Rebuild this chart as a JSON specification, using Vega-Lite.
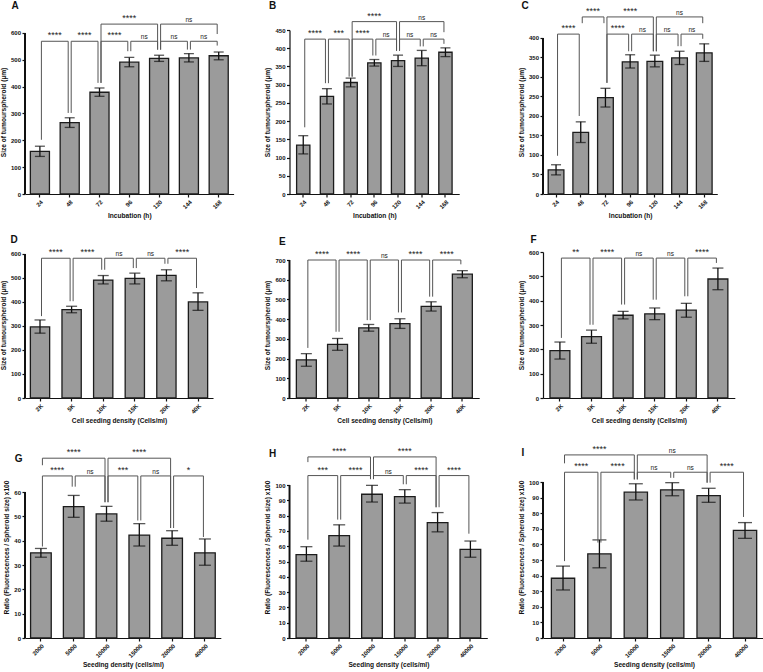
{
"$schema": "https://vega.github.io/schema/vega-lite/v6.json",
"padding": {"left": 0, "top": 0, "right": 0, "bottom": 0},
"config": {
 "view": {"stroke": null},
 "font": "Liberation Sans",
 "axis": {"grid": false, "labelFont": "Liberation Sans", "titleFont": "Liberation Sans", "labelFontWeight": "bold", "titleFontWeight": "bold", "labelFontSize": 6, "titleFontSize": 6.6, "labelColor": "#111", "titleColor": "#111", "domainColor": "#111", "tickColor": "#111", "domainWidth": 1.2, "tickWidth": 1.2, "tickSize": 3, "labelPadding": 1.5, "titlePadding": 4, "labelOverlap": false, "labelFlush": false},
 "axisX": {"labelAngle": -45, "titlePadding": 3},
 "title": {"font": "Liberation Sans", "fontSize": 10, "fontWeight": "bold", "anchor": "start", "frame": "bounds", "color": "#111"}
},
"datasets": {
 "A": [{"cat":"24","mean":159,"lo":140,"hi":178},{"cat":"48","mean":266,"lo":248,"hi":284},{"cat":"72","mean":379,"lo":364,"hi":395},{"cat":"96","mean":491,"lo":474,"hi":509},{"cat":"120","mean":505,"lo":494,"hi":517},{"cat":"144","mean":507,"lo":492,"hi":523},{"cat":"168","mean":515,"lo":500,"hi":529}],
 "B": [{"cat":"24","mean":134,"lo":110,"hi":160},{"cat":"48","mean":268,"lo":247,"hi":289},{"cat":"72","mean":306,"lo":294,"hi":318},{"cat":"96","mean":360,"lo":351,"hi":369},{"cat":"120","mean":366,"lo":350,"hi":381},{"cat":"144","mean":373,"lo":352,"hi":394},{"cat":"168","mean":389,"lo":377,"hi":401}],
 "C": [{"cat":"24","mean":62,"lo":49,"hi":75},{"cat":"48","mean":158,"lo":132,"hi":185},{"cat":"72","mean":247,"lo":223,"hi":271},{"cat":"96","mean":339,"lo":323,"hi":357},{"cat":"120","mean":340,"lo":326,"hi":356},{"cat":"144","mean":349,"lo":332,"hi":366},{"cat":"168","mean":362,"lo":340,"hi":385}],
 "D": [{"cat":"2K","mean":296,"lo":270,"hi":325},{"cat":"5K","mean":368,"lo":355,"hi":382},{"cat":"10K","mean":491,"lo":475,"hi":510},{"cat":"15K","mean":498,"lo":475,"hi":520},{"cat":"20K","mean":511,"lo":488,"hi":534},{"cat":"40K","mean":400,"lo":365,"hi":438}],
 "E": [{"cat":"2K","mean":193,"lo":161,"hi":225},{"cat":"5K","mean":272,"lo":242,"hi":302},{"cat":"10K","mean":356,"lo":339,"hi":373},{"cat":"15K","mean":377,"lo":353,"hi":402},{"cat":"20K","mean":465,"lo":441,"hi":488},{"cat":"40K","mean":628,"lo":610,"hi":646}],
 "F": [{"cat":"2K","mean":195,"lo":160,"hi":230},{"cat":"5K","mean":252,"lo":225,"hi":279},{"cat":"10K","mean":340,"lo":325,"hi":356},{"cat":"15K","mean":346,"lo":322,"hi":370},{"cat":"20K","mean":361,"lo":332,"hi":389},{"cat":"40K","mean":489,"lo":445,"hi":534}],
 "G": [{"cat":"2000","mean":35,"lo":33.2,"hi":36.8},{"cat":"5000","mean":54,"lo":49.6,"hi":58.6},{"cat":"10000","mean":51,"lo":48,"hi":54.1},{"cat":"15000","mean":42.3,"lo":37.8,"hi":47},{"cat":"20000","mean":41,"lo":38.1,"hi":44.1},{"cat":"40000","mean":35,"lo":29.9,"hi":40.7}],
 "H": [{"cat":"2000","mean":54.5,"lo":50.2,"hi":59.7},{"cat":"5000","mean":67,"lo":60.1,"hi":74},{"cat":"10000","mean":94,"lo":88.9,"hi":99.8},{"cat":"15000","mean":92.4,"lo":88.2,"hi":97},{"cat":"20000","mean":75.5,"lo":69.4,"hi":82},{"cat":"40000","mean":58,"lo":52.8,"hi":63.4}],
 "I": [{"cat":"2000","mean":38.3,"lo":30.8,"hi":46.1},{"cat":"5000","mean":54,"lo":45,"hi":62.9},{"cat":"10000","mean":93.5,"lo":88.5,"hi":98.9},{"cat":"15000","mean":95,"lo":91.2,"hi":99.6},{"cat":"20000","mean":91.3,"lo":87,"hi":96},{"cat":"40000","mean":69,"lo":63.9,"hi":74}],
 "bA": [{"a":"24","b":"48","m":"","lev":569,"ya":202,"yb":302,"lab":"****","adj":true},{"a":"48","b":"72","m":"","lev":569,"ya":302,"yb":414,"lab":"****","adj":true},{"a":"72","b":"96","m":"","lev":569,"ya":414,"yb":532,"lab":"****","adj":true},{"a":"96","b":"120","m":"","lev":569,"ya":532,"yb":538,"lab":"ns","adj":true},{"a":"120","b":"144","m":"","lev":569,"ya":538,"yb":538,"lab":"ns","adj":true},{"a":"144","b":"168","m":"","lev":569,"ya":538,"yb":553,"lab":"ns","adj":true},{"a":"72","b":"120","m":"96","lev":633,"ya":414,"yb":538,"lab":"****","adj":false},{"a":"120","b":"168","m":"144","lev":633,"ya":538,"yb":596,"lab":"ns","adj":false}],
 "bB": [{"a":"24","b":"48","m":"","lev":425,"ya":183,"yb":304,"lab":"****","adj":true},{"a":"48","b":"72","m":"","lev":425,"ya":304,"yb":322,"lab":"***","adj":true},{"a":"72","b":"96","m":"","lev":425,"ya":322,"yb":380,"lab":"****","adj":true},{"a":"96","b":"120","m":"","lev":425,"ya":380,"yb":393,"lab":"ns","adj":true},{"a":"120","b":"144","m":"","lev":425,"ya":393,"yb":405,"lab":"ns","adj":true},{"a":"144","b":"168","m":"","lev":425,"ya":405,"yb":412,"lab":"ns","adj":true},{"a":"72","b":"120","m":"96","lev":473,"ya":322,"yb":393,"lab":"****","adj":false},{"a":"120","b":"168","m":"144","lev":473,"ya":393,"yb":444,"lab":"ns","adj":false}],
 "bC": [{"a":"24","b":"48","m":"","lev":410,"ya":98,"yb":200,"lab":"****","adj":true},{"a":"72","b":"96","m":"","lev":410,"ya":285,"yb":366,"lab":"****","adj":true},{"a":"96","b":"120","m":"","lev":410,"ya":366,"yb":366,"lab":"ns","adj":true},{"a":"120","b":"144","m":"","lev":410,"ya":366,"yb":379,"lab":"ns","adj":true},{"a":"144","b":"168","m":"","lev":410,"ya":379,"yb":398,"lab":"ns","adj":true},{"a":"48","b":"72","m":"","lev":454,"ya":438,"yb":438,"lab":"****","adj":true},{"a":"72","b":"120","m":"96","lev":454,"ya":285,"yb":366,"lab":"****","adj":false},{"a":"120","b":"168","m":"144","lev":454,"ya":366,"yb":438,"lab":"ns","adj":false}],
 "bD": [{"a":"2K","b":"5K","m":"","lev":582,"ya":341,"yb":403,"lab":"****","adj":true},{"a":"5K","b":"10K","m":"","lev":582,"ya":403,"yb":534,"lab":"****","adj":true},{"a":"10K","b":"15K","m":"","lev":582,"ya":534,"yb":541,"lab":"ns","adj":true},{"a":"15K","b":"20K","m":"","lev":582,"ya":541,"yb":559,"lab":"ns","adj":true},{"a":"20K","b":"40K","m":"","lev":582,"ya":559,"yb":458,"lab":"****","adj":true}],
 "bE": [{"a":"2K","b":"5K","m":"","lev":700,"ya":254,"yb":336,"lab":"****","adj":true},{"a":"5K","b":"10K","m":"","lev":700,"ya":336,"yb":395,"lab":"****","adj":true},{"a":"10K","b":"15K","m":"","lev":700,"ya":395,"yb":434,"lab":"ns","adj":true},{"a":"15K","b":"20K","m":"","lev":700,"ya":434,"yb":514,"lab":"****","adj":true},{"a":"20K","b":"40K","m":"","lev":700,"ya":514,"yb":678,"lab":"****","adj":true}],
 "bF": [{"a":"2K","b":"5K","m":"","lev":575,"ya":247,"yb":301,"lab":"**","adj":true},{"a":"5K","b":"10K","m":"","lev":575,"ya":301,"yb":384,"lab":"****","adj":true},{"a":"10K","b":"15K","m":"","lev":575,"ya":384,"yb":404,"lab":"ns","adj":true},{"a":"15K","b":"20K","m":"","lev":575,"ya":404,"yb":418,"lab":"ns","adj":true},{"a":"20K","b":"40K","m":"","lev":575,"ya":418,"yb":555,"lab":"****","adj":true}],
 "bG": [{"a":"2000","b":"5000","m":"","lev":66.6,"ya":37.6,"yb":62.2,"lab":"****","adj":true},{"a":"5000","b":"10000","m":"","lev":66.6,"ya":62.2,"yb":55.8,"lab":"ns","adj":true},{"a":"10000","b":"15000","m":"","lev":66.6,"ya":55.8,"yb":48.3,"lab":"***","adj":true},{"a":"15000","b":"20000","m":"","lev":66.6,"ya":48.3,"yb":45.2,"lab":"ns","adj":true},{"a":"20000","b":"40000","m":"","lev":66.6,"ya":45.2,"yb":41.5,"lab":"*","adj":true},{"a":"2000","b":"10000","m":"5000","lev":73.9,"ya":71,"yb":55.8,"lab":"****","adj":false},{"a":"10000","b":"20000","m":"15000","lev":73.9,"ya":55.8,"yb":45.2,"lab":"****","adj":false}],
 "bH": [{"a":"2000","b":"5000","m":"","lev":106.2,"ya":64.3,"yb":77.4,"lab":"***","adj":true},{"a":"5000","b":"10000","m":"","lev":106.2,"ya":77.4,"yb":103.9,"lab":"****","adj":true},{"a":"10000","b":"15000","m":"","lev":106.2,"ya":103.9,"yb":100.5,"lab":"ns","adj":true},{"a":"15000","b":"20000","m":"","lev":106.2,"ya":100.5,"yb":85.5,"lab":"****","adj":true},{"a":"20000","b":"40000","m":"","lev":106.2,"ya":85.5,"yb":68.2,"lab":"****","adj":true},{"a":"2000","b":"10000","m":"5000","lev":118.4,"ya":115,"yb":103.9,"lab":"****","adj":false},{"a":"10000","b":"20000","m":"15000","lev":118.4,"ya":103.9,"yb":85.5,"lab":"****","adj":false}],
 "bI": [{"a":"2000","b":"5000","m":"","lev":106.3,"ya":49.3,"yb":61.2,"lab":"****","adj":true},{"a":"5000","b":"10000","m":"","lev":106.3,"ya":61.2,"yb":101.7,"lab":"****","adj":true},{"a":"10000","b":"15000","m":"","lev":106.3,"ya":101.7,"yb":102.7,"lab":"ns","adj":true},{"a":"15000","b":"20000","m":"","lev":106.3,"ya":102.7,"yb":99.6,"lab":"ns","adj":true},{"a":"20000","b":"40000","m":"","lev":106.3,"ya":99.6,"yb":77.6,"lab":"****","adj":true},{"a":"2000","b":"10000","m":"5000","lev":117.4,"ya":112,"yb":101.7,"lab":"****","adj":false},{"a":"10000","b":"20000","m":"15000","lev":117.4,"ya":101.7,"yb":99.6,"lab":"ns","adj":false}]
},
"columns": 3,
"spacing": {"row": 58, "column": 55.5},
"bounds": "flush",
"align": "each",
"concat": [
{"width":{"step":29.8},"height":164,"title":{"text":"A","dx":11,"offset":3},
"layer":[
{"data":{"name":"A"},"mark":{"type":"bar","fill":"#9b9b9b","stroke":"#1c1c1c","strokeWidth":1.3},"encoding":{"x":{"field":"cat","type":"nominal","scale":{"domain":["24","48","72","96","120","144","168"],"paddingInner":0.36,"paddingOuter":0.18},"axis":{"title":"Incubation (h)"}},"y":{"field":"mean","type":"quantitative","scale":{"domain":[0,611],"nice":false},"axis":{"title":"Size of tumourspheroid  (µm)","values":[0,100,200,300,400,500,600],"labelOverlap":false,"tickCount":7,"domain":false}}}},
{"data":{"name":"A"},"mark":{"type":"rule","color":"#111","strokeWidth":1.2},"encoding":{"x":{"datum":"24","type":"nominal","bandPosition":-0.281},"y":{"datum":0,"type":"quantitative","scale":{"domain":[0,611],"nice":false}},"y2":{"datum":600}}},
{"data":{"name":"A"},"mark":{"type":"rule","color":"#111","strokeWidth":1.3},"encoding":{"x":{"field":"cat","type":"nominal"},"y":{"field":"lo","type":"quantitative","scale":{"domain":[0,611],"nice":false}},"y2":{"field":"hi"}}},
{"data":{"name":"A"},"mark":{"type":"tick","color":"#111","thickness":1.3,"size":10},"encoding":{"x":{"field":"cat","type":"nominal"},"y":{"field":"hi","type":"quantitative","scale":{"domain":[0,611],"nice":false}}}},
{"data":{"name":"A"},"mark":{"type":"tick","color":"#111","thickness":1.3,"size":10},"encoding":{"x":{"field":"cat","type":"nominal"},"y":{"field":"lo","type":"quantitative","scale":{"domain":[0,611],"nice":false}}}},
{"data":{"name":"bA"},"mark":{"type":"rule","color":"#555","strokeWidth":1,"xOffset":1.5,"x2Offset":-1.5},"encoding":{"x":{"field":"a","type":"nominal"},"x2":{"field":"b"},"y":{"field":"lev","type":"quantitative","scale":{"domain":[0,611],"nice":false}}}},
{"data":{"name":"bA"},"mark":{"type":"rule","color":"#555","strokeWidth":1,"xOffset":1.5},"encoding":{"x":{"field":"a","type":"nominal"},"y":{"field":"ya","type":"quantitative","scale":{"domain":[0,611],"nice":false}},"y2":{"field":"lev"}}},
{"data":{"name":"bA"},"mark":{"type":"rule","color":"#555","strokeWidth":1,"xOffset":-1.5},"encoding":{"x":{"field":"b","type":"nominal"},"y":{"field":"yb","type":"quantitative","scale":{"domain":[0,611],"nice":false}},"y2":{"field":"lev"}}},
{"data":{"name":"bA"},"transform":[{"filter":"datum.adj"}],"mark":{"type":"text","baseline":"bottom","dy":-1,"xOffset":14.9,"color":"#222","fontSize":{"expr":"datum.lab == 'ns' ? 6.5 : 9"}},"encoding":{"x":{"field":"a","type":"nominal"},"y":{"field":"lev","type":"quantitative","scale":{"domain":[0,611],"nice":false}},"text":{"field":"lab"}}},
{"data":{"name":"bA"},"transform":[{"filter":"!datum.adj"}],"mark":{"type":"text","baseline":"bottom","dy":-1,"color":"#222","fontSize":{"expr":"datum.lab == 'ns' ? 6.5 : 9"}},"encoding":{"x":{"field":"m","type":"nominal"},"y":{"field":"lev","type":"quantitative","scale":{"domain":[0,611],"nice":false}},"text":{"field":"lab"}}}
]},
{"width":{"step":23.7},"height":164,"title":{"text":"B","dx":4,"offset":1},
"layer":[
{"data":{"name":"B"},"mark":{"type":"bar","fill":"#9b9b9b","stroke":"#1c1c1c","strokeWidth":1.3},"encoding":{"x":{"field":"cat","type":"nominal","scale":{"domain":["24","48","72","96","120","144","168"],"paddingInner":0.44,"paddingOuter":0.3},"axis":{"title":"Incubation (h)"}},"y":{"field":"mean","type":"quantitative","scale":{"domain":[0,450],"nice":false},"axis":{"title":"Size of tumourspheroid  (µm)","values":[0,50,100,150,200,250,300,350,400,450],"labelOverlap":false,"tickCount":10}}}},
{"data":{"name":"B"},"mark":{"type":"rule","color":"#111","strokeWidth":1.3},"encoding":{"x":{"field":"cat","type":"nominal"},"y":{"field":"lo","type":"quantitative","scale":{"domain":[0,450],"nice":false}},"y2":{"field":"hi"}}},
{"data":{"name":"B"},"mark":{"type":"tick","color":"#111","thickness":1.3,"size":10},"encoding":{"x":{"field":"cat","type":"nominal"},"y":{"field":"hi","type":"quantitative","scale":{"domain":[0,450],"nice":false}}}},
{"data":{"name":"B"},"mark":{"type":"tick","color":"#111","thickness":1.3,"size":10},"encoding":{"x":{"field":"cat","type":"nominal"},"y":{"field":"lo","type":"quantitative","scale":{"domain":[0,450],"nice":false}}}},
{"data":{"name":"bB"},"mark":{"type":"rule","color":"#555","strokeWidth":1,"xOffset":1.5,"x2Offset":-1.5},"encoding":{"x":{"field":"a","type":"nominal"},"x2":{"field":"b"},"y":{"field":"lev","type":"quantitative","scale":{"domain":[0,450],"nice":false}}}},
{"data":{"name":"bB"},"mark":{"type":"rule","color":"#555","strokeWidth":1,"xOffset":1.5},"encoding":{"x":{"field":"a","type":"nominal"},"y":{"field":"ya","type":"quantitative","scale":{"domain":[0,450],"nice":false}},"y2":{"field":"lev"}}},
{"data":{"name":"bB"},"mark":{"type":"rule","color":"#555","strokeWidth":1,"xOffset":-1.5},"encoding":{"x":{"field":"b","type":"nominal"},"y":{"field":"yb","type":"quantitative","scale":{"domain":[0,450],"nice":false}},"y2":{"field":"lev"}}},
{"data":{"name":"bB"},"transform":[{"filter":"datum.adj"}],"mark":{"type":"text","baseline":"bottom","dy":-1,"xOffset":11.85,"color":"#222","fontSize":{"expr":"datum.lab == 'ns' ? 6.5 : 9"}},"encoding":{"x":{"field":"a","type":"nominal"},"y":{"field":"lev","type":"quantitative","scale":{"domain":[0,450],"nice":false}},"text":{"field":"lab"}}},
{"data":{"name":"bB"},"transform":[{"filter":"!datum.adj"}],"mark":{"type":"text","baseline":"bottom","dy":-1,"color":"#222","fontSize":{"expr":"datum.lab == 'ns' ? 6.5 : 9"}},"encoding":{"x":{"field":"m","type":"nominal"},"y":{"field":"lev","type":"quantitative","scale":{"domain":[0,450],"nice":false}},"text":{"field":"lab"}}}
]},
{"width":{"step":24.7},"height":164,"title":{"text":"C","dx":3,"offset":-4},
"layer":[
{"data":{"name":"C"},"mark":{"type":"bar","fill":"#9b9b9b","stroke":"#1c1c1c","strokeWidth":1.3},"encoding":{"x":{"field":"cat","type":"nominal","scale":{"domain":["24","48","72","96","120","144","168"],"paddingInner":0.364,"paddingOuter":0.21},"axis":{"title":"Incubation (h)"}},"y":{"field":"mean","type":"quantitative","scale":{"domain":[0,420.5],"nice":false},"axis":{"title":"Size of tumourspheroid  (µm)","values":[0,50,100,150,200,250,300,350,400],"labelOverlap":false,"tickCount":9,"domain":false}}}},
{"data":{"name":"C"},"mark":{"type":"rule","color":"#111","strokeWidth":1.2},"encoding":{"x":{"datum":"24","type":"nominal","bandPosition":-0.33},"y":{"datum":0,"type":"quantitative","scale":{"domain":[0,420.5],"nice":false}},"y2":{"datum":400}}},
{"data":{"name":"C"},"mark":{"type":"rule","color":"#111","strokeWidth":1.3},"encoding":{"x":{"field":"cat","type":"nominal"},"y":{"field":"lo","type":"quantitative","scale":{"domain":[0,420.5],"nice":false}},"y2":{"field":"hi"}}},
{"data":{"name":"C"},"mark":{"type":"tick","color":"#111","thickness":1.3,"size":10},"encoding":{"x":{"field":"cat","type":"nominal"},"y":{"field":"hi","type":"quantitative","scale":{"domain":[0,420.5],"nice":false}}}},
{"data":{"name":"C"},"mark":{"type":"tick","color":"#111","thickness":1.3,"size":10},"encoding":{"x":{"field":"cat","type":"nominal"},"y":{"field":"lo","type":"quantitative","scale":{"domain":[0,420.5],"nice":false}}}},
{"data":{"name":"bC"},"mark":{"type":"rule","color":"#555","strokeWidth":1,"xOffset":1.5,"x2Offset":-1.5},"encoding":{"x":{"field":"a","type":"nominal"},"x2":{"field":"b"},"y":{"field":"lev","type":"quantitative","scale":{"domain":[0,420.5],"nice":false}}}},
{"data":{"name":"bC"},"mark":{"type":"rule","color":"#555","strokeWidth":1,"xOffset":1.5},"encoding":{"x":{"field":"a","type":"nominal"},"y":{"field":"ya","type":"quantitative","scale":{"domain":[0,420.5],"nice":false}},"y2":{"field":"lev"}}},
{"data":{"name":"bC"},"mark":{"type":"rule","color":"#555","strokeWidth":1,"xOffset":-1.5},"encoding":{"x":{"field":"b","type":"nominal"},"y":{"field":"yb","type":"quantitative","scale":{"domain":[0,420.5],"nice":false}},"y2":{"field":"lev"}}},
{"data":{"name":"bC"},"transform":[{"filter":"datum.adj"}],"mark":{"type":"text","baseline":"bottom","dy":-1,"xOffset":12.35,"color":"#222","fontSize":{"expr":"datum.lab == 'ns' ? 6.5 : 9"}},"encoding":{"x":{"field":"a","type":"nominal"},"y":{"field":"lev","type":"quantitative","scale":{"domain":[0,420.5],"nice":false}},"text":{"field":"lab"}}},
{"data":{"name":"bC"},"transform":[{"filter":"!datum.adj"}],"mark":{"type":"text","baseline":"bottom","dy":-1,"color":"#222","fontSize":{"expr":"datum.lab == 'ns' ? 6.5 : 9"}},"encoding":{"x":{"field":"m","type":"nominal"},"y":{"field":"lev","type":"quantitative","scale":{"domain":[0,420.5],"nice":false}},"text":{"field":"lab"}}}
]},
{"width":{"step":31.6},"height":146,"title":{"text":"D","dx":10,"offset":3},
"layer":[
{"data":{"name":"D"},"mark":{"type":"bar","fill":"#9b9b9b","stroke":"#1c1c1c","strokeWidth":1.3},"encoding":{"x":{"field":"cat","type":"nominal","scale":{"domain":["2K","5K","10K","15K","20K","40K"],"paddingInner":0.39,"paddingOuter":0.17},"axis":{"title":"Cell seeding density (Cells/ml)"}},"y":{"field":"mean","type":"quantitative","scale":{"domain":[0,608],"nice":false},"axis":{"title":"Size of tumourspheroid  (µm)","values":[0,100,200,300,400,500,600],"labelOverlap":false,"tickCount":7,"domain":false}}}},
{"data":{"name":"D"},"mark":{"type":"rule","color":"#111","strokeWidth":1.2},"encoding":{"x":{"datum":"2K","type":"nominal","bandPosition":-0.279},"y":{"datum":0,"type":"quantitative","scale":{"domain":[0,608],"nice":false}},"y2":{"datum":600}}},
{"data":{"name":"D"},"mark":{"type":"rule","color":"#111","strokeWidth":1.3},"encoding":{"x":{"field":"cat","type":"nominal"},"y":{"field":"lo","type":"quantitative","scale":{"domain":[0,608],"nice":false}},"y2":{"field":"hi"}}},
{"data":{"name":"D"},"mark":{"type":"tick","color":"#111","thickness":1.3,"size":11},"encoding":{"x":{"field":"cat","type":"nominal"},"y":{"field":"hi","type":"quantitative","scale":{"domain":[0,608],"nice":false}}}},
{"data":{"name":"D"},"mark":{"type":"tick","color":"#111","thickness":1.3,"size":11},"encoding":{"x":{"field":"cat","type":"nominal"},"y":{"field":"lo","type":"quantitative","scale":{"domain":[0,608],"nice":false}}}},
{"data":{"name":"bD"},"mark":{"type":"rule","color":"#555","strokeWidth":1,"xOffset":1.5,"x2Offset":-1.5},"encoding":{"x":{"field":"a","type":"nominal"},"x2":{"field":"b"},"y":{"field":"lev","type":"quantitative","scale":{"domain":[0,608],"nice":false}}}},
{"data":{"name":"bD"},"mark":{"type":"rule","color":"#555","strokeWidth":1,"xOffset":1.5},"encoding":{"x":{"field":"a","type":"nominal"},"y":{"field":"ya","type":"quantitative","scale":{"domain":[0,608],"nice":false}},"y2":{"field":"lev"}}},
{"data":{"name":"bD"},"mark":{"type":"rule","color":"#555","strokeWidth":1,"xOffset":-1.5},"encoding":{"x":{"field":"b","type":"nominal"},"y":{"field":"yb","type":"quantitative","scale":{"domain":[0,608],"nice":false}},"y2":{"field":"lev"}}},
{"data":{"name":"bD"},"transform":[{"filter":"datum.adj"}],"mark":{"type":"text","baseline":"bottom","dy":-1,"xOffset":15.8,"color":"#222","fontSize":{"expr":"datum.lab == 'ns' ? 6.5 : 9"}},"encoding":{"x":{"field":"a","type":"nominal"},"y":{"field":"lev","type":"quantitative","scale":{"domain":[0,608],"nice":false}},"text":{"field":"lab"}}}
]},
{"width":{"step":31.2},"height":146,"title":{"text":"E","dx":14,"offset":3.5},
"layer":[
{"data":{"name":"E"},"mark":{"type":"bar","fill":"#9b9b9b","stroke":"#1c1c1c","strokeWidth":1.3},"encoding":{"x":{"field":"cat","type":"nominal","scale":{"domain":["2K","5K","10K","15K","20K","40K"],"paddingInner":0.36,"paddingOuter":0.22},"axis":{"title":"Cell seeding density (Cells/ml)"}},"y":{"field":"mean","type":"quantitative","scale":{"domain":[0,740.6],"nice":false},"axis":{"title":"Size of tumourspheroid  (µm)","values":[0,100,200,300,400,500,600,700],"labelOverlap":false,"tickCount":8,"domain":false}}}},
{"data":{"name":"E"},"mark":{"type":"rule","color":"#111","strokeWidth":1.2},"encoding":{"x":{"datum":"2K","type":"nominal","bandPosition":-0.344},"y":{"datum":0,"type":"quantitative","scale":{"domain":[0,740.6],"nice":false}},"y2":{"datum":700}}},
{"data":{"name":"E"},"mark":{"type":"rule","color":"#111","strokeWidth":1.3},"encoding":{"x":{"field":"cat","type":"nominal"},"y":{"field":"lo","type":"quantitative","scale":{"domain":[0,740.6],"nice":false}},"y2":{"field":"hi"}}},
{"data":{"name":"E"},"mark":{"type":"tick","color":"#111","thickness":1.3,"size":11},"encoding":{"x":{"field":"cat","type":"nominal"},"y":{"field":"hi","type":"quantitative","scale":{"domain":[0,740.6],"nice":false}}}},
{"data":{"name":"E"},"mark":{"type":"tick","color":"#111","thickness":1.3,"size":11},"encoding":{"x":{"field":"cat","type":"nominal"},"y":{"field":"lo","type":"quantitative","scale":{"domain":[0,740.6],"nice":false}}}},
{"data":{"name":"bE"},"mark":{"type":"rule","color":"#555","strokeWidth":1,"xOffset":1.5,"x2Offset":-1.5},"encoding":{"x":{"field":"a","type":"nominal"},"x2":{"field":"b"},"y":{"field":"lev","type":"quantitative","scale":{"domain":[0,740.6],"nice":false}}}},
{"data":{"name":"bE"},"mark":{"type":"rule","color":"#555","strokeWidth":1,"xOffset":1.5},"encoding":{"x":{"field":"a","type":"nominal"},"y":{"field":"ya","type":"quantitative","scale":{"domain":[0,740.6],"nice":false}},"y2":{"field":"lev"}}},
{"data":{"name":"bE"},"mark":{"type":"rule","color":"#555","strokeWidth":1,"xOffset":-1.5},"encoding":{"x":{"field":"b","type":"nominal"},"y":{"field":"yb","type":"quantitative","scale":{"domain":[0,740.6],"nice":false}},"y2":{"field":"lev"}}},
{"data":{"name":"bE"},"transform":[{"filter":"datum.adj"}],"mark":{"type":"text","baseline":"bottom","dy":-1,"xOffset":15.6,"color":"#222","fontSize":{"expr":"datum.lab == 'ns' ? 6.5 : 9"}},"encoding":{"x":{"field":"a","type":"nominal"},"y":{"field":"lev","type":"quantitative","scale":{"domain":[0,740.6],"nice":false}},"text":{"field":"lab"}}}
]},
{"width":{"step":31.6},"height":146,"title":{"text":"F","dx":12,"offset":3.5},
"layer":[
{"data":{"name":"F"},"mark":{"type":"bar","fill":"#9b9b9b","stroke":"#1c1c1c","strokeWidth":1.3},"encoding":{"x":{"field":"cat","type":"nominal","scale":{"domain":["2K","5K","10K","15K","20K","40K"],"paddingInner":0.37,"paddingOuter":0.22},"axis":{"title":"Cell seeding density (Cells/ml)"}},"y":{"field":"mean","type":"quantitative","scale":{"domain":[0,600],"nice":false},"axis":{"title":"Size of tumourspheroid  (µm)","values":[0,100,200,300,400,500,600],"labelOverlap":false,"tickCount":7}}}},
{"data":{"name":"F"},"mark":{"type":"rule","color":"#111","strokeWidth":1.3},"encoding":{"x":{"field":"cat","type":"nominal"},"y":{"field":"lo","type":"quantitative","scale":{"domain":[0,600],"nice":false}},"y2":{"field":"hi"}}},
{"data":{"name":"F"},"mark":{"type":"tick","color":"#111","thickness":1.3,"size":11},"encoding":{"x":{"field":"cat","type":"nominal"},"y":{"field":"hi","type":"quantitative","scale":{"domain":[0,600],"nice":false}}}},
{"data":{"name":"F"},"mark":{"type":"tick","color":"#111","thickness":1.3,"size":11},"encoding":{"x":{"field":"cat","type":"nominal"},"y":{"field":"lo","type":"quantitative","scale":{"domain":[0,600],"nice":false}}}},
{"data":{"name":"bF"},"mark":{"type":"rule","color":"#555","strokeWidth":1,"xOffset":1.5,"x2Offset":-1.5},"encoding":{"x":{"field":"a","type":"nominal"},"x2":{"field":"b"},"y":{"field":"lev","type":"quantitative","scale":{"domain":[0,600],"nice":false}}}},
{"data":{"name":"bF"},"mark":{"type":"rule","color":"#555","strokeWidth":1,"xOffset":1.5},"encoding":{"x":{"field":"a","type":"nominal"},"y":{"field":"ya","type":"quantitative","scale":{"domain":[0,600],"nice":false}},"y2":{"field":"lev"}}},
{"data":{"name":"bF"},"mark":{"type":"rule","color":"#555","strokeWidth":1,"xOffset":-1.5},"encoding":{"x":{"field":"b","type":"nominal"},"y":{"field":"yb","type":"quantitative","scale":{"domain":[0,600],"nice":false}},"y2":{"field":"lev"}}},
{"data":{"name":"bF"},"transform":[{"filter":"datum.adj"}],"mark":{"type":"text","baseline":"bottom","dy":-1,"xOffset":15.8,"color":"#222","fontSize":{"expr":"datum.lab == 'ns' ? 6.5 : 9"}},"encoding":{"x":{"field":"a","type":"nominal"},"y":{"field":"lev","type":"quantitative","scale":{"domain":[0,600],"nice":false}},"text":{"field":"lab"}}}
]},
{"width":{"step":32.8},"height":182,"title":{"text":"G","dx":11,"offset":-16},
"layer":[
{"data":{"name":"G"},"mark":{"type":"bar","fill":"#9b9b9b","stroke":"#1c1c1c","strokeWidth":1.3},"encoding":{"x":{"field":"cat","type":"nominal","scale":{"domain":["2000","5000","10000","15000","20000","40000"],"paddingInner":0.37,"paddingOuter":0.17},"axis":{"title":"Seeding density (cells/ml)"}},"y":{"field":"mean","type":"quantitative","scale":{"domain":[0,74.8],"nice":false},"axis":{"title":"Ratio (Fluorescences / Spheroid size) x100","values":[0,10,20,30,40,50,60],"labelOverlap":false,"tickCount":7,"domain":false}}}},
{"data":{"name":"G"},"mark":{"type":"rule","color":"#111","strokeWidth":1.2},"encoding":{"x":{"datum":"2000","type":"nominal","bandPosition":-0.27},"y":{"datum":0,"type":"quantitative","scale":{"domain":[0,74.8],"nice":false}},"y2":{"datum":60}}},
{"data":{"name":"G"},"mark":{"type":"rule","color":"#111","strokeWidth":1.3},"encoding":{"x":{"field":"cat","type":"nominal"},"y":{"field":"lo","type":"quantitative","scale":{"domain":[0,74.8],"nice":false}},"y2":{"field":"hi"}}},
{"data":{"name":"G"},"mark":{"type":"tick","color":"#111","thickness":1.3,"size":12},"encoding":{"x":{"field":"cat","type":"nominal"},"y":{"field":"hi","type":"quantitative","scale":{"domain":[0,74.8],"nice":false}}}},
{"data":{"name":"G"},"mark":{"type":"tick","color":"#111","thickness":1.3,"size":12},"encoding":{"x":{"field":"cat","type":"nominal"},"y":{"field":"lo","type":"quantitative","scale":{"domain":[0,74.8],"nice":false}}}},
{"data":{"name":"bG"},"mark":{"type":"rule","color":"#555","strokeWidth":1,"xOffset":1.5,"x2Offset":-1.5},"encoding":{"x":{"field":"a","type":"nominal"},"x2":{"field":"b"},"y":{"field":"lev","type":"quantitative","scale":{"domain":[0,74.8],"nice":false}}}},
{"data":{"name":"bG"},"mark":{"type":"rule","color":"#555","strokeWidth":1,"xOffset":1.5},"encoding":{"x":{"field":"a","type":"nominal"},"y":{"field":"ya","type":"quantitative","scale":{"domain":[0,74.8],"nice":false}},"y2":{"field":"lev"}}},
{"data":{"name":"bG"},"mark":{"type":"rule","color":"#555","strokeWidth":1,"xOffset":-1.5},"encoding":{"x":{"field":"b","type":"nominal"},"y":{"field":"yb","type":"quantitative","scale":{"domain":[0,74.8],"nice":false}},"y2":{"field":"lev"}}},
{"data":{"name":"bG"},"transform":[{"filter":"datum.adj"}],"mark":{"type":"text","baseline":"bottom","dy":-1,"xOffset":16.4,"color":"#222","fontSize":{"expr":"datum.lab == 'ns' ? 6.5 : 9"}},"encoding":{"x":{"field":"a","type":"nominal"},"y":{"field":"lev","type":"quantitative","scale":{"domain":[0,74.8],"nice":false}},"text":{"field":"lab"}}},
{"data":{"name":"bG"},"transform":[{"filter":"!datum.adj"}],"mark":{"type":"text","baseline":"bottom","dy":-1,"color":"#222","fontSize":{"expr":"datum.lab == 'ns' ? 6.5 : 9"}},"encoding":{"x":{"field":"m","type":"nominal"},"y":{"field":"lev","type":"quantitative","scale":{"domain":[0,74.8],"nice":false}},"text":{"field":"lab"}}}
]},
{"width":{"step":32.8},"height":182,"title":{"text":"H","dx":4,"offset":-12.5},
"layer":[
{"data":{"name":"H"},"mark":{"type":"bar","fill":"#9b9b9b","stroke":"#1c1c1c","strokeWidth":1.3},"encoding":{"x":{"field":"cat","type":"nominal","scale":{"domain":["2000","5000","10000","15000","20000","40000"],"paddingInner":0.37,"paddingOuter":0.2},"axis":{"title":"Seeding density (cells/ml)"}},"y":{"field":"mean","type":"quantitative","scale":{"domain":[0,119],"nice":false},"axis":{"title":"Ratio (Fluorescences / Spheroid size) x100","values":[0,10,20,30,40,50,60,70,80,90,100],"labelOverlap":false,"tickCount":11,"domain":false}}}},
{"data":{"name":"H"},"mark":{"type":"rule","color":"#111","strokeWidth":1.2},"encoding":{"x":{"datum":"2000","type":"nominal","bandPosition":-0.317},"y":{"datum":0,"type":"quantitative","scale":{"domain":[0,119],"nice":false}},"y2":{"datum":100}}},
{"data":{"name":"H"},"mark":{"type":"rule","color":"#111","strokeWidth":1.3},"encoding":{"x":{"field":"cat","type":"nominal"},"y":{"field":"lo","type":"quantitative","scale":{"domain":[0,119],"nice":false}},"y2":{"field":"hi"}}},
{"data":{"name":"H"},"mark":{"type":"tick","color":"#111","thickness":1.3,"size":12},"encoding":{"x":{"field":"cat","type":"nominal"},"y":{"field":"hi","type":"quantitative","scale":{"domain":[0,119],"nice":false}}}},
{"data":{"name":"H"},"mark":{"type":"tick","color":"#111","thickness":1.3,"size":12},"encoding":{"x":{"field":"cat","type":"nominal"},"y":{"field":"lo","type":"quantitative","scale":{"domain":[0,119],"nice":false}}}},
{"data":{"name":"bH"},"mark":{"type":"rule","color":"#555","strokeWidth":1,"xOffset":1.5,"x2Offset":-1.5},"encoding":{"x":{"field":"a","type":"nominal"},"x2":{"field":"b"},"y":{"field":"lev","type":"quantitative","scale":{"domain":[0,119],"nice":false}}}},
{"data":{"name":"bH"},"mark":{"type":"rule","color":"#555","strokeWidth":1,"xOffset":1.5},"encoding":{"x":{"field":"a","type":"nominal"},"y":{"field":"ya","type":"quantitative","scale":{"domain":[0,119],"nice":false}},"y2":{"field":"lev"}}},
{"data":{"name":"bH"},"mark":{"type":"rule","color":"#555","strokeWidth":1,"xOffset":-1.5},"encoding":{"x":{"field":"b","type":"nominal"},"y":{"field":"yb","type":"quantitative","scale":{"domain":[0,119],"nice":false}},"y2":{"field":"lev"}}},
{"data":{"name":"bH"},"transform":[{"filter":"datum.adj"}],"mark":{"type":"text","baseline":"bottom","dy":-1,"xOffset":16.4,"color":"#222","fontSize":{"expr":"datum.lab == 'ns' ? 6.5 : 9"}},"encoding":{"x":{"field":"a","type":"nominal"},"y":{"field":"lev","type":"quantitative","scale":{"domain":[0,119],"nice":false}},"text":{"field":"lab"}}},
{"data":{"name":"bH"},"transform":[{"filter":"!datum.adj"}],"mark":{"type":"text","baseline":"bottom","dy":-1,"color":"#222","fontSize":{"expr":"datum.lab == 'ns' ? 6.5 : 9"}},"encoding":{"x":{"field":"m","type":"nominal"},"y":{"field":"lev","type":"quantitative","scale":{"domain":[0,119],"nice":false}},"text":{"field":"lab"}}}
]},
{"width":{"step":36.4},"height":182,"title":{"text":"I","dx":3,"offset":-13.5},
"layer":[
{"data":{"name":"I"},"mark":{"type":"bar","fill":"#9b9b9b","stroke":"#1c1c1c","strokeWidth":1.3},"encoding":{"x":{"field":"cat","type":"nominal","scale":{"domain":["2000","5000","10000","15000","20000","40000"],"paddingInner":0.36,"paddingOuter":0.23},"axis":{"title":"Seeding density (cells/ml)"}},"y":{"field":"mean","type":"quantitative","scale":{"domain":[0,116.7],"nice":false},"axis":{"title":"Ratio (Fluorescences / Spheroid size) x100","values":[0,10,20,30,40,50,60,70,80,90,100],"labelOverlap":false,"tickCount":11,"domain":false}}}},
{"data":{"name":"I"},"mark":{"type":"rule","color":"#111","strokeWidth":1.2},"encoding":{"x":{"datum":"2000","type":"nominal","bandPosition":-0.36},"y":{"datum":0,"type":"quantitative","scale":{"domain":[0,116.7],"nice":false}},"y2":{"datum":100}}},
{"data":{"name":"I"},"mark":{"type":"rule","color":"#111","strokeWidth":1.3},"encoding":{"x":{"field":"cat","type":"nominal"},"y":{"field":"lo","type":"quantitative","scale":{"domain":[0,116.7],"nice":false}},"y2":{"field":"hi"}}},
{"data":{"name":"I"},"mark":{"type":"tick","color":"#111","thickness":1.3,"size":14},"encoding":{"x":{"field":"cat","type":"nominal"},"y":{"field":"hi","type":"quantitative","scale":{"domain":[0,116.7],"nice":false}}}},
{"data":{"name":"I"},"mark":{"type":"tick","color":"#111","thickness":1.3,"size":14},"encoding":{"x":{"field":"cat","type":"nominal"},"y":{"field":"lo","type":"quantitative","scale":{"domain":[0,116.7],"nice":false}}}},
{"data":{"name":"bI"},"mark":{"type":"rule","color":"#555","strokeWidth":1,"xOffset":1.5,"x2Offset":-1.5},"encoding":{"x":{"field":"a","type":"nominal"},"x2":{"field":"b"},"y":{"field":"lev","type":"quantitative","scale":{"domain":[0,116.7],"nice":false}}}},
{"data":{"name":"bI"},"mark":{"type":"rule","color":"#555","strokeWidth":1,"xOffset":1.5},"encoding":{"x":{"field":"a","type":"nominal"},"y":{"field":"ya","type":"quantitative","scale":{"domain":[0,116.7],"nice":false}},"y2":{"field":"lev"}}},
{"data":{"name":"bI"},"mark":{"type":"rule","color":"#555","strokeWidth":1,"xOffset":-1.5},"encoding":{"x":{"field":"b","type":"nominal"},"y":{"field":"yb","type":"quantitative","scale":{"domain":[0,116.7],"nice":false}},"y2":{"field":"lev"}}},
{"data":{"name":"bI"},"transform":[{"filter":"datum.adj"}],"mark":{"type":"text","baseline":"bottom","dy":-1,"xOffset":18.2,"color":"#222","fontSize":{"expr":"datum.lab == 'ns' ? 6.5 : 9"}},"encoding":{"x":{"field":"a","type":"nominal"},"y":{"field":"lev","type":"quantitative","scale":{"domain":[0,116.7],"nice":false}},"text":{"field":"lab"}}},
{"data":{"name":"bI"},"transform":[{"filter":"!datum.adj"}],"mark":{"type":"text","baseline":"bottom","dy":-1,"color":"#222","fontSize":{"expr":"datum.lab == 'ns' ? 6.5 : 9"}},"encoding":{"x":{"field":"m","type":"nominal"},"y":{"field":"lev","type":"quantitative","scale":{"domain":[0,116.7],"nice":false}},"text":{"field":"lab"}}}
]}
]
}
